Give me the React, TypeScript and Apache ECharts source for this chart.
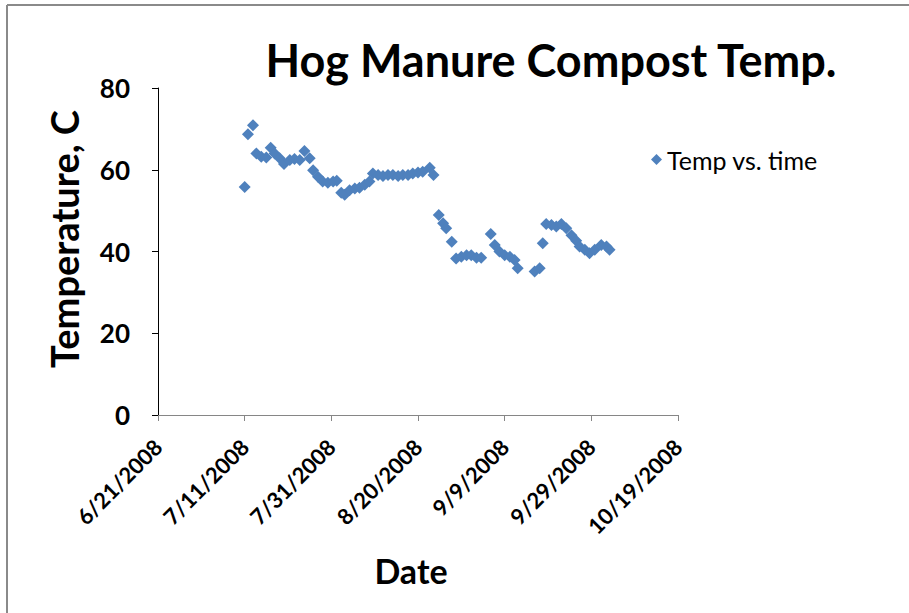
import React, { useEffect, useRef } from "react";
import * as echarts from "echarts";

// Measurement times and compost temperatures (°C)
const dates: string[] = [
  "2008-07-11 00:00", "2008-07-11 18:00", "2008-07-12 22:00", "2008-07-13 17:00",
  "2008-07-14 20:00", "2008-07-16 00:00", "2008-07-17 00:00", "2008-07-17 22:00",
  "2008-07-19 02:00", "2008-07-20 02:00", "2008-07-21 10:00", "2008-07-22 12:00",
  "2008-07-23 17:00", "2008-07-24 19:00", "2008-07-26 00:00", "2008-07-26 19:00",
  "2008-07-27 22:00", "2008-07-29 00:00", "2008-07-30 05:00", "2008-07-31 10:00",
  "2008-08-01 06:00", "2008-08-02 07:00", "2008-08-03 02:00", "2008-08-04 05:00",
  "2008-08-05 10:00", "2008-08-06 12:00", "2008-08-07 17:00", "2008-08-08 19:00",
  "2008-08-09 14:00", "2008-08-10 19:00", "2008-08-11 22:00", "2008-08-13 02:00",
  "2008-08-14 05:00", "2008-08-15 10:00", "2008-08-16 12:00", "2008-08-17 17:00",
  "2008-08-18 19:00", "2008-08-20 00:00", "2008-08-21 02:00", "2008-08-22 17:00",
  "2008-08-23 14:00", "2008-08-24 19:00", "2008-08-25 19:00", "2008-08-26 12:00",
  "2008-08-27 19:00", "2008-08-28 19:00", "2008-08-30 00:00", "2008-08-31 05:00",
  "2008-09-01 07:00", "2008-09-02 12:00", "2008-09-03 14:00", "2008-09-05 19:00",
  "2008-09-06 17:00", "2008-09-07 19:00", "2008-09-09 00:00", "2008-09-10 05:00",
  "2008-09-11 07:00", "2008-09-12 00:00", "2008-09-15 22:00", "2008-09-17 02:00",
  "2008-09-17 19:00", "2008-09-18 14:00", "2008-09-19 19:00", "2008-09-20 22:00",
  "2008-09-22 02:00", "2008-09-23 05:00", "2008-09-24 10:00", "2008-09-25 12:00",
  "2008-09-26 07:00", "2008-09-27 12:00", "2008-09-28 14:00", "2008-09-29 19:00",
  "2008-10-01 07:00", "2008-10-02 12:00", "2008-10-03 05:00",
];

const temps: number[] = [
  55.8, 68.7, 70.9, 64.0,
  63.2, 63.0, 65.4, 64.0,
  62.8, 61.4, 62.4, 62.6,
  62.4, 64.6, 62.8, 59.9,
  58.3, 57.1, 56.8, 57.1,
  57.3, 54.4, 53.9, 55.0,
  55.4, 55.6, 56.3, 57.1,
  59.1, 58.7, 58.5, 58.7,
  58.7, 58.5, 58.7, 58.7,
  59.1, 59.3, 59.5, 60.5,
  58.7, 48.9, 46.9, 45.7,
  42.4, 38.3, 38.7, 39.1,
  39.1, 38.5, 38.5, 44.3,
  41.6, 40.0, 39.1, 38.7,
  37.9, 35.9, 35.1, 35.9,
  42.0, 46.7, 46.5, 46.1,
  46.7, 45.7, 44.0, 42.6,
  41.2, 40.4, 39.6, 40.4,
  41.6, 41.2, 40.4,
];

const axisStart = "2008-06-21 00:00";
const axisSpanDays = 120;
const tickStepDays = 20;
const yMin = 0;
const yMax = 80;
const yStep = 20;

const FONT = "Lato, 'Open Sans', sans-serif";

function parseUTC(s: string): number {
  const [d, t] = s.split(" ");
  const [y, m, day] = d.split("-").map(Number);
  const [hh, mm] = (t || "00:00").split(":").map(Number);
  return Date.UTC(y, m - 1, day, hh, mm);
}
const startMs = parseUTC(axisStart);
const dayOffset = (s: string) => (parseUTC(s) - startMs) / 86400000;
const dayLabel = (v: number) => {
  const d = new Date(startMs + v * 86400000);
  return `${d.getUTCMonth() + 1}/${d.getUTCDate()}/${d.getUTCFullYear()}`;
};

export default function App() {
  const ref = useRef<HTMLDivElement>(null);
  useEffect(() => {
    if (!ref.current) return;
    const chart = echarts.init(ref.current, undefined, { renderer: "svg" });
    const points = dates.map((d, i) => [dayOffset(d), temps[i]]);
    chart.setOption({
      animation: false,
      backgroundColor: "#ffffff",
      title: {
        text: "Hog Manure Compost Temp.",
        left: 546,
        top: 32,
        textAlign: "center",
        textStyle: { fontFamily: FONT, fontWeight: "bold", fontSize: 45, color: "#000" },
      },
      legend: {
        left: 646,
        top: 142,
        icon: "diamond",
        itemWidth: 11,
        itemHeight: 11,
        textStyle: { fontFamily: FONT, fontSize: 25, color: "#000" },
        data: ["Temp vs. time"],
      },
      grid: { left: 158, right: 231, top: 88, bottom: 198, containLabel: false },
      xAxis: {
        type: "value",
        min: 0,
        max: axisSpanDays,
        interval: tickStepDays,
        axisLine: { show: true, lineStyle: { color: "#868686", width: 1 } },
        axisTick: { show: true, inside: false, length: 6, lineStyle: { color: "#868686" } },
        splitLine: { show: false },
        axisLabel: {
          rotate: 45,
          margin: 28,
          formatter: (v: number) => dayLabel(v),
          fontFamily: FONT,
          fontWeight: "bold",
          fontSize: 22,
          color: "#000",
        },
      },
      yAxis: {
        type: "value",
        min: yMin,
        max: yMax,
        interval: yStep,
        axisLine: { show: true, lineStyle: { color: "#000", width: 1 } },
        axisTick: { show: true, inside: false, length: 6, lineStyle: { color: "#000" } },
        splitLine: { show: false },
        axisLabel: {
          margin: 28,
          fontFamily: FONT,
          fontWeight: "bold",
          fontSize: 26,
          color: "#000",
        },
      },
      graphic: [
        { type: "line", shape: { x1: 7, y1: 5, x2: 909, y2: 5 }, style: { stroke: "#8a8a8a", lineWidth: 2 } },
        { type: "line", shape: { x1: 7, y1: 5, x2: 7, y2: 613 }, style: { stroke: "#8a8a8a", lineWidth: 2 } },
        {
          type: "text",
          x: 64,
          y: 239,
          rotation: Math.PI / 2,
          style: {
            text: "Temperature, C",
            align: "center",
            verticalAlign: "middle",
            fontFamily: FONT,
            fontWeight: "bold",
            fontSize: 38,
            fill: "#000",
          },
        },
        {
          type: "text",
          x: 411,
          y: 570,
          style: {
            text: "Date",
            align: "center",
            verticalAlign: "middle",
            fontFamily: FONT,
            fontWeight: "bold",
            fontSize: 34,
            fill: "#000",
          },
        },
      ],
      series: [
        {
          name: "Temp vs. time",
          type: "scatter",
          symbol: "diamond",
          symbolSize: 12,
          itemStyle: { color: "#4F81BD", opacity: 1 },
          data: points,
        },
      ],
    });
    return () => chart.dispose();
  }, []);
  return (
    <div
      ref={ref}
      style={{ position: "fixed", left: 0, top: 0, width: 909, height: 613 }}
    />
  );
}
